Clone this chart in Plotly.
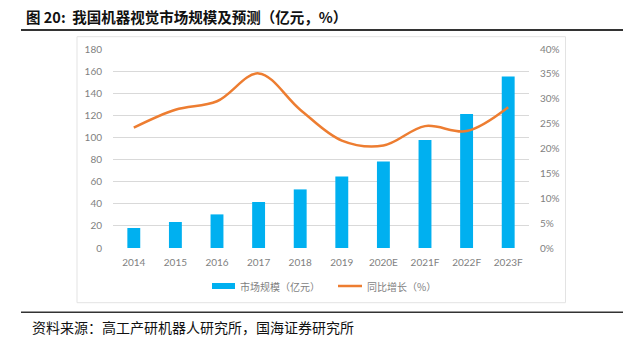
import plotly.graph_objects as go

categories = ["2014", "2015", "2016", "2017", "2018", "2019", "2020E", "2021F", "2022F", "2023F"]
market_size = [18.1, 23.5, 30.4, 41.6, 53.0, 64.7, 78.3, 97.6, 121.2, 155.2]
growth = [0.242, 0.278, 0.295, 0.351, 0.278, 0.216, 0.206, 0.245, 0.235, 0.283]
left_ticks = [0, 20, 40, 60, 80, 100, 120, 140, 160, 180]
right_ticks = [0, 0.05, 0.10, 0.15, 0.20, 0.25, 0.30, 0.35, 0.40]
right_tick_labels = ["0%", "5%", "10%", "15%", "20%", "25%", "30%", "35%", "40%"]
series_names = ["市场规模（亿元）", "同比增长（%）"]

W, H = 625, 351
L, R, T, B = 113, 529, 49, 248
BAR_COLOR = "#00B0F0"
LINE_COLOR = "#ED7D31"


def px(x):
    return (x - L) / (R - L)


def py(y):
    return (B - y) / (B - T)


tick_font = dict(family="Lato, Liberation Sans, sans-serif", size=10, color="#7F7F7F")
cjk = "Noto Sans CJK SC"

fig = go.Figure()
fig.add_trace(go.Bar(
    x=categories, y=market_size, name=series_names[0],
    marker=dict(color=BAR_COLOR, line=dict(width=0)), width=0.31,
))
fig.add_trace(go.Scatter(
    x=categories, y=growth, name=series_names[1], yaxis="y2", mode="lines",
    line=dict(color=LINE_COLOR, width=2.5, shape="spline", smoothing=1.0),
))

fig.update_layout(
    width=W, height=H,
    margin=dict(l=L, r=W - R, t=T, b=H - B),
    paper_bgcolor="white", plot_bgcolor="white",
    showlegend=False,
    xaxis=dict(type="category", range=[-0.5, 9.5], showgrid=False, showline=False,
               zeroline=False, tickfont=tick_font, ticks="outside", ticklen=5,
               tickcolor="rgba(0,0,0,0)"),
    yaxis=dict(range=[0, 180], tickvals=left_ticks, showgrid=True, gridcolor="#D9D9D9",
               gridwidth=1, zeroline=False, showline=False, tickfont=tick_font,
               ticks="outside", ticklen=8, tickcolor="rgba(0,0,0,0)"),
    yaxis2=dict(range=[0, 0.4], tickvals=right_ticks, ticktext=right_tick_labels,
                overlaying="y", side="right", showgrid=False, zeroline=False,
                showline=False, tickfont=tick_font, ticks="outside", ticklen=8,
                tickcolor="rgba(0,0,0,0)"),
)

shapes = [
    # chart frame
    dict(type="rect", xref="paper", yref="paper", x0=px(77), x1=px(565.5),
         y0=py(36.7), y1=py(302.7), line=dict(color="#E3E3E3", width=1), layer="below"),
    # title rule
    dict(type="line", xref="paper", yref="paper", x0=px(21), x1=px(623),
         y0=py(30), y1=py(30), line=dict(color="#333333", width=2)),
    # source rule
    dict(type="line", xref="paper", yref="paper", x0=px(21), x1=px(623),
         y0=py(312.3), y1=py(312.3), line=dict(color="#333333", width=1.5)),
    # legend swatches
    dict(type="rect", xref="paper", yref="paper", x0=px(212), x1=px(235),
         y0=py(289), y1=py(283), line=dict(width=0), fillcolor=BAR_COLOR),
    dict(type="line", xref="paper", yref="paper", x0=px(338), x1=px(362),
         y0=py(286), y1=py(286), line=dict(color=LINE_COLOR, width=2.5)),
]
fig.update_layout(shapes=shapes)

legend_font = dict(family=cjk, size=10, color="#7F7F7F")
fig.add_annotation(text=series_names[0], xref="paper", yref="paper", x=px(238), y=py(286),
                   xanchor="left", yanchor="middle", showarrow=False, font=legend_font)
fig.add_annotation(text=series_names[1], xref="paper", yref="paper", x=px(365), y=py(286),
                   xanchor="left", yanchor="middle", showarrow=False, font=legend_font)

fig.add_annotation(
    text="<b>图 20:  我国机器视觉市场规模及预测（亿元，%）</b>",
    xref="paper", yref="paper", x=px(24), y=py(16), xanchor="left", yanchor="middle",
    showarrow=False, font=dict(family=cjk, size=14.5, color="#111111"),
)
fig.add_annotation(
    text="资料来源：高工产研机器人研究所，国海证券研究所",
    xref="paper", yref="paper", x=px(30), y=py(327), xanchor="left", yanchor="middle",
    showarrow=False, font=dict(family=cjk, size=14, color="#111111"),
)

fig.write_html("out.html")
